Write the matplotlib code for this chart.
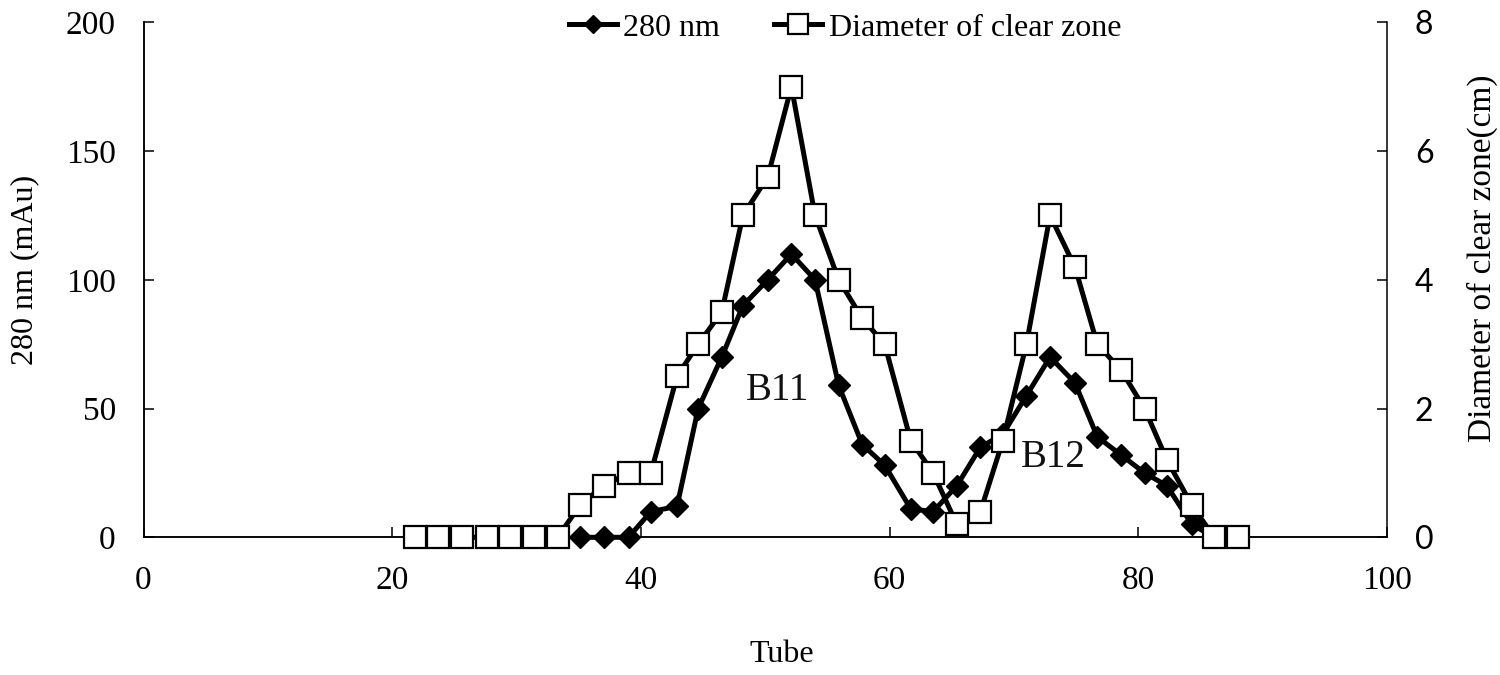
import matplotlib
matplotlib.use("Agg")
import matplotlib.pyplot as plt
from matplotlib.lines import Line2D

# tube positions
tube_zone = [21.8, 23.7, 25.6, 27.6, 29.5, 31.4, 33.3, 35.1, 37.0, 39.0,
             40.8, 42.9, 44.6, 46.5, 48.2, 50.2, 52.1, 54.0, 55.9, 57.8,
             59.6, 61.7, 63.5, 65.4, 67.3, 69.1, 71.0, 72.9, 74.9, 76.7,
             78.6, 80.5, 82.3, 84.3, 86.1, 88.0]
zone_cm = [0, 0, 0, 0, 0, 0, 0, 0.5, 0.8, 1.0,
           1.0, 2.5, 3.0, 3.5, 5.0, 5.6, 7.0, 5.0, 4.0, 3.4,
           3.0, 1.5, 1.0, 0.2, 0.4, 1.5, 3.0, 5.0, 4.2, 3.0,
           2.6, 2.0, 1.2, 0.5, 0, 0]

tube_abs = [35.1, 37.0, 39.0, 40.8, 42.9, 44.6, 46.5, 48.2, 50.2, 52.1,
            54.0, 55.9, 57.8, 59.6, 61.7, 63.5, 65.4, 67.3, 69.1, 71.0,
            72.9, 74.9, 76.7, 78.6, 80.5, 82.3, 84.3, 86.1]
abs_280 = [0, 0, 0, 10, 12, 50, 70, 90, 100, 110,
           100, 59, 36, 28, 11, 10, 20, 35, 40, 55,
           70, 60, 39, 32, 25, 20, 5, 0]

x_ticks = [0, 20, 40, 60, 80, 100]
left_ticks = [0, 50, 100, 150, 200]
right_ticks = [0, 2, 4, 6, 8]

serif = "Liberation Serif"
sans = "Lato"

fig = plt.figure(figsize=(15, 6.75), dpi=100)
ax = fig.add_axes([0.0957, 0.204, 0.829, 0.763])
ax2 = ax.twinx()
ax.set_zorder(1)
ax2.set_zorder(2)

ax.plot(tube_abs, abs_280, color="black", lw=3.6, marker="D", ms=11.5,
        mfc="black", mec="black", zorder=3, clip_on=False)
ax2.plot(tube_zone, zone_cm, color="black", lw=3.6, marker="s", ms=16,
         mfc="white", mec="black", mew=1.6, zorder=3, clip_on=False)

ax.set_xlim(0, 100)
ax.set_ylim(0, 200)
ax2.set_ylim(0, 8)
ax.set_xticks(x_ticks)
ax.set_yticks(left_ticks)
ax2.set_yticks(right_ticks)

for a in (ax, ax2):
    a.spines["top"].set_visible(False)
    for s in a.spines.values():
        s.set_linewidth(1.1)
    a.patch.set_visible(False)
ax.spines["right"].set_visible(False)

ax.tick_params(axis="both", direction="in", length=7, width=1.1, pad=20,
               labelsize=24)
ax2.tick_params(axis="y", direction="in", length=7, width=1.1, pad=20,
                labelsize=23)
for lab in ax.get_xticklabels() + ax.get_yticklabels():
    lab.set_fontfamily(serif)
for lab in ax2.get_yticklabels():
    lab.set_fontfamily(sans)

fig.text(782 / 1500, 1 - 655 / 675, "Tube", ha="center", va="center",
         fontsize=23, family=serif)
fig.text(25 / 1500, 1 - 270 / 675, "280 nm (mAu)", ha="center", va="center",
         rotation=90, fontsize=23, family=serif)
fig.text(1482 / 1500, 1 - 258 / 675, "Diameter of clear zone(cm)",
         ha="center", va="center", rotation=90, fontsize=24, family=serif)

ax.text(51.0, 57.2, "B11", ha="center", va="center", fontsize=28,
        family=serif, color="#111111")
ax.text(73.2, 30.8, "B12", ha="center", va="center", fontsize=28,
        family=serif, color="#111111")

h1 = Line2D([], [], color="black", lw=3.6, marker="D", ms=9, mfc="black")
h2 = Line2D([], [], color="black", lw=3.6, marker="s", ms=15, mfc="white",
            mew=1.6)
fig.legend([h1, h2], ["280 nm", "Diameter of clear zone"], loc="center",
           bbox_to_anchor=(845 / 1500, 1 - 28 / 675), ncol=2, frameon=False,
           prop={"family": serif, "size": 23}, handlelength=1.5,
           handletextpad=0.2, columnspacing=1.7, borderaxespad=0)

fig.savefig("out.png", dpi=100)
